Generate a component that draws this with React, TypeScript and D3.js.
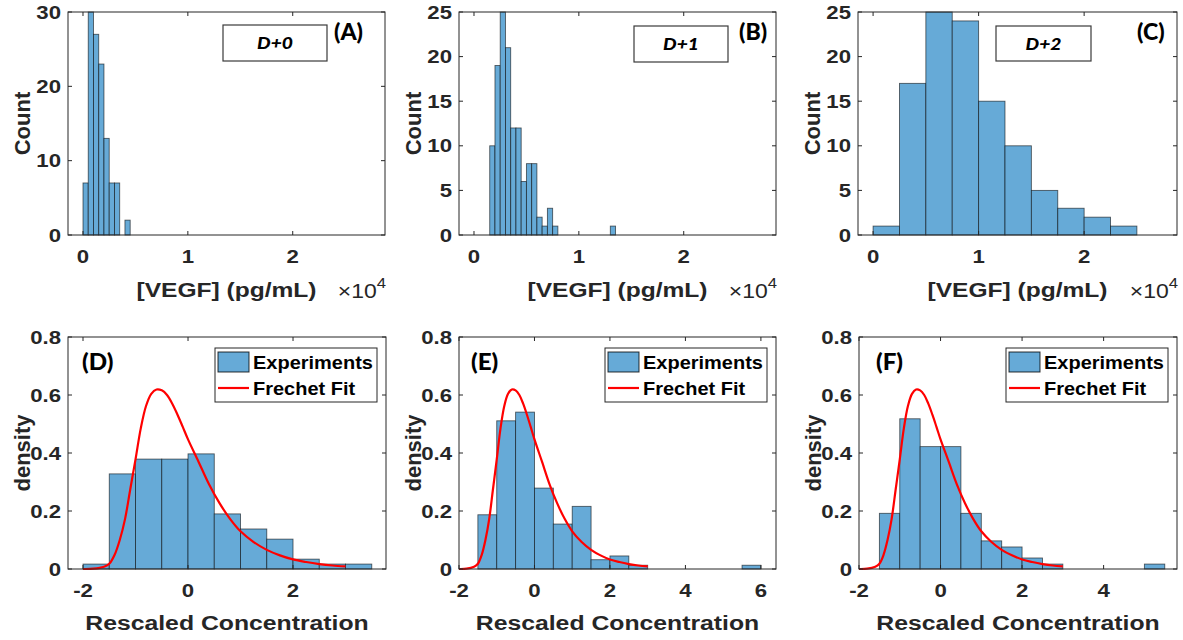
import React from 'react';
import * as d3 from 'd3';

// ---------- data ----------
// Top row: VEGF histograms (x in units of 1e4 pg/mL)
const vegfTicks = [0, 1, 2];
const d0Counts = [7, 30, 27, 23, 13, 7, 7, 0, 2];
const d0BinStart = 0;
const d0BinWidth = 0.05;
const d1Counts = [10, 19, 25, 21, 12, 12, 6, 8, 8, 2, 1, 3, 1, 0, 0, 0, 0, 0, 0, 0, 0, 0, 0, 1];
const d1BinStart = 0.15;
const d1BinWidth = 0.05;
const d2Counts = [1, 17, 25, 24, 15, 10, 5, 3, 2, 1];
const d2BinStart = 0;
const d2BinWidth = 0.25;
const countTicksA = [0, 10, 20, 30];
const countTicksBC = [0, 5, 10, 15, 20, 25];

// Bottom row: rescaled densities
const densD = [0.017, 0.328, 0.379, 0.379, 0.397, 0.19, 0.138, 0.103, 0.034, 0.017, 0.017];
const densDStart = -2;
const densE = [0.187, 0.511, 0.541, 0.279, 0.155, 0.216, 0.032, 0.045, 0.013, 0, 0, 0, 0, 0, 0.013];
const densEStart = -1.5;
const densF = [0.192, 0.518, 0.422, 0.422, 0.192, 0.097, 0.076, 0.038, 0.017, 0, 0, 0, 0, 0.017];
const densFStart = -1.5;
const densBinWidth = 0.5;
const densTicks = [0, 0.2, 0.4, 0.6, 0.8];
const densTickLabels = ['0', '0.2', '0.4', '0.6', '0.8'];
const rescTicksD = [-2, 0, 2];
const rescTicksE = [-2, 0, 2, 4, 6];
const rescTicksF = [-2, 0, 2, 4];

// Frechet fit curve
const fitX = [-2, -1.8, -1.6, -1.5, -1.4, -1.3, -1.2, -1.1, -1.0, -0.9, -0.8, -0.7, -0.6, -0.5, -0.4, -0.3, -0.2, -0.1, 0, 0.2, 0.4, 0.6, 0.8, 1.0, 1.25, 1.5, 1.75, 2.0, 2.25, 2.5, 2.75, 3.0];
const fitY = [0, 0.001, 0.008, 0.018, 0.048, 0.1, 0.172, 0.275, 0.378, 0.485, 0.562, 0.604, 0.619, 0.616, 0.6, 0.57, 0.532, 0.49, 0.447, 0.37, 0.292, 0.227, 0.173, 0.13, 0.093, 0.066, 0.047, 0.033, 0.024, 0.017, 0.012, 0.009];

const dayLabels = ['D+0', 'D+1', 'D+2'];
const panelLetters = ['(A)', '(B)', '(C)', '(D)', '(E)', '(F)'];
const legendLabels = ['Experiments', 'Frechet Fit'];

// ---------- style ----------
const SANS = "'Liberation Sans', Arial, Helvetica, sans-serif";
const CAL = "Lato, 'Open Sans', sans-serif";
const BAR_FILL = '#66aad7';
const AX = '#262626';

type TP = {
  x: number; y: number; size: number; weight?: string | number; anchor?: string;
  sx?: number; family?: string; italic?: boolean; rotate?: number; children?: React.ReactNode; fill?: string;
};
function T({ x, y, size, weight = 'bold', anchor = 'middle', sx = 1, family = SANS, italic, rotate, children, fill = AX }: TP) {
  const tr = `translate(${x},${y})` + (rotate ? ` rotate(${rotate})` : '') + (sx !== 1 ? ` scale(${sx},1)` : '');
  return (
    <text transform={tr} fontSize={size} fontWeight={weight} textAnchor={anchor as any}
      fontFamily={family} fontStyle={italic ? 'italic' : 'normal'} fill={fill}>
      {children}
    </text>
  );
}

type Box = { x0: number; x1: number; y0: number; y1: number };

type PanelProps = {
  box: Box;
  xDomain: [number, number];
  yDomain: [number, number];
  xTicks: number[];
  yTicks: number[];
  yTickLabels?: string[];
  values: number[];
  binStart: number;
  binWidth: number;
  curve?: boolean;
};

function Panel({ box, xDomain, yDomain, xTicks, yTicks, yTickLabels, values, binStart, binWidth, curve }: PanelProps) {
  const xs = d3.scaleLinear().domain(xDomain).range([box.x0, box.x1]);
  const ys = d3.scaleLinear().domain(yDomain).range([box.y1, box.y0]);
  const line = d3.line<[number, number]>()
    .x(d => xs(d[0])).y(d => ys(d[1])).curve(d3.curveCatmullRom.alpha(0.5));
  const pts: [number, number][] = fitX.map((v, i) => [v, fitY[i]]);
  const tl = 4;
  return (
    <g>
      {values.map((v, i) => v > 0 ? (
        <rect key={i}
          x={xs(binStart + i * binWidth)} width={xs(binStart + (i + 1) * binWidth) - xs(binStart + i * binWidth)}
          y={ys(v)} height={ys(0) - ys(v)}
          fill={BAR_FILL} stroke="#000" strokeOpacity={0.6} strokeWidth={0.9} />
      ) : null)}
      {curve && <path d={line(pts) || ''} fill="none" stroke="#ff0000" strokeWidth={2.2} />}
      <rect x={box.x0} y={box.y0} width={box.x1 - box.x0} height={box.y1 - box.y0}
        fill="none" stroke={AX} strokeWidth={1} />
      {xTicks.map(t => (
        <g key={'x' + t}>
          <line x1={xs(t)} x2={xs(t)} y1={box.y1} y2={box.y1 - tl} stroke={AX} />
          <line x1={xs(t)} x2={xs(t)} y1={box.y0} y2={box.y0 + tl} stroke={AX} />
        </g>
      ))}
      {yTicks.map(t => (
        <g key={'y' + t}>
          <line x1={box.x0} x2={box.x0 + tl} y1={ys(t)} y2={ys(t)} stroke={AX} />
          <line x1={box.x1} x2={box.x1 - tl} y1={ys(t)} y2={ys(t)} stroke={AX} />
        </g>
      ))}
      {xTicks.map(t => (
        <T key={'xl' + t} x={xs(t)} y={box.y1 + 28} size={18.5} sx={1.2}>{String(t)}</T>
      ))}
      {yTicks.map((t, i) => (
        <T key={'yl' + t} x={box.x0 - 7} y={ys(t) + 6.5} size={18.5} sx={1.2} anchor="end">
          {yTickLabels ? yTickLabels[i] : String(t)}
        </T>
      ))}
    </g>
  );
}

export default function App() {
  const top = { y0: 12, y1: 235 };
  const bot = { y0: 337, y1: 569 };
  const topBoxes: Box[] = [
    { x0: 68, x1: 385, ...top },
    { x0: 459, x1: 776, ...top },
    { x0: 858, x1: 1177, ...top },
  ];
  const botBoxes: Box[] = [
    { x0: 68, x1: 386, ...bot },
    { x0: 459, x1: 776, ...bot },
    { x0: 859, x1: 1177, ...bot },
  ];
  const vegfDomain: [number, number] = [-0.143, 2.88];
  const topCounts = [d0Counts, d1Counts, d2Counts];
  const topStarts = [d0BinStart, d1BinStart, d2BinStart];
  const topWidths = [d0BinWidth, d1BinWidth, d2BinWidth];
  const topYMax = [30, 25, 25];
  const topYTicks = [countTicksA, countTicksBC, countTicksBC];
  const dayBoxes = [
    { x: 223, y: 25, w: 104, h: 36 },
    { x: 634, y: 26, w: 94, h: 36 },
    { x: 996, y: 26, w: 95, h: 35 },
  ];
  const letterTopX = [334, 739, 1137];
  const botDomains: [number, number][] = [[-2.286, 3.771], [-2, 6.4], [-2, 5.8]];
  const botVals = [densD, densE, densF];
  const botStarts = [densDStart, densEStart, densFStart];
  const botTicks = [rescTicksD, rescTicksE, rescTicksF];
  const letterBotX = [82, 471, 876];

  return (
    <svg width={1183} height={640} style={{ position: 'absolute', left: 0, top: 0, background: '#fff' }}>
      <rect x={0} y={0} width={1183} height={640} fill="#fff" />
      {topBoxes.map((b, i) => {
        const cx = (b.x0 + b.x1) / 2;
        const cy = (b.y0 + b.y1) / 2;
        const db = dayBoxes[i];
        return (
          <g key={'t' + i}>
            <Panel box={b} xDomain={vegfDomain} yDomain={[0, topYMax[i]]} xTicks={vegfTicks}
              yTicks={topYTicks[i]} values={topCounts[i]} binStart={topStarts[i]} binWidth={topWidths[i]} />
            <rect x={db.x} y={db.y} width={db.w} height={db.h} fill="#fff" stroke="#3a3a3a" strokeWidth={1.2} />
            <T x={db.x + db.w / 2} y={db.y + db.h / 2 + 6} size={17.5} weight={900} family={CAL} italic sx={1.1} fill="#000">{dayLabels[i]}</T>
            <T x={letterTopX[i]} y={40} size={22} weight={900} family={CAL} anchor="start" sx={1.05} fill="#000">{panelLetters[i]}</T>
            <T x={b.x0 - 38} y={cy} size={22} rotate={-90}>Count</T>
            <T x={cx} y={297} size={21} sx={1.17}>[VEGF] (pg/mL)</T>
            <text transform={`translate(${b.x1 + 1},298) scale(1.15,1)`} fontSize={20} fontFamily={SANS}
              textAnchor="end" fill={AX}>
              ×10<tspan fontSize={14.5} dy={-10}>4</tspan>
            </text>
          </g>
        );
      })}
      {botBoxes.map((b, i) => {
        const cx = (b.x0 + b.x1) / 2;
        const cy = (b.y0 + b.y1) / 2;
        const lx = b.x1 - 171;
        const ly = 348;
        return (
          <g key={'b' + i}>
            <Panel box={b} xDomain={botDomains[i]} yDomain={[0, 0.8]} xTicks={botTicks[i]}
              yTicks={densTicks} yTickLabels={densTickLabels} values={botVals[i]}
              binStart={botStarts[i]} binWidth={densBinWidth} curve />
            <T x={letterBotX[i]} y={370} size={23} weight={900} family={CAL} anchor="start" sx={1.05} fill="#000">{panelLetters[3 + i]}</T>
            <rect x={lx} y={ly} width={162} height={54} fill="#fff" stroke={AX} strokeWidth={1} />
            <rect x={lx + 3} y={ly + 4} width={31} height={20} fill={BAR_FILL} stroke="#000" strokeOpacity={0.8} strokeWidth={1} />
            <line x1={lx + 3} x2={lx + 34} y1={ly + 40} y2={ly + 40} stroke="#ff0000" strokeWidth={2.2} />
            <T x={lx + 38} y={ly + 21} size={18.5} anchor="start" sx={1.08} fill="#000">{legendLabels[0]}</T>
            <T x={lx + 38} y={ly + 47} size={18.5} anchor="start" sx={1.08} fill="#000">{legendLabels[1]}</T>
            <T x={b.x0 - 38} y={cy} size={22} rotate={-90}>density</T>
            <T x={cx} y={630} size={21} sx={1.18}>Rescaled Concentration</T>
          </g>
        );
      })}
    </svg>
  );
}
